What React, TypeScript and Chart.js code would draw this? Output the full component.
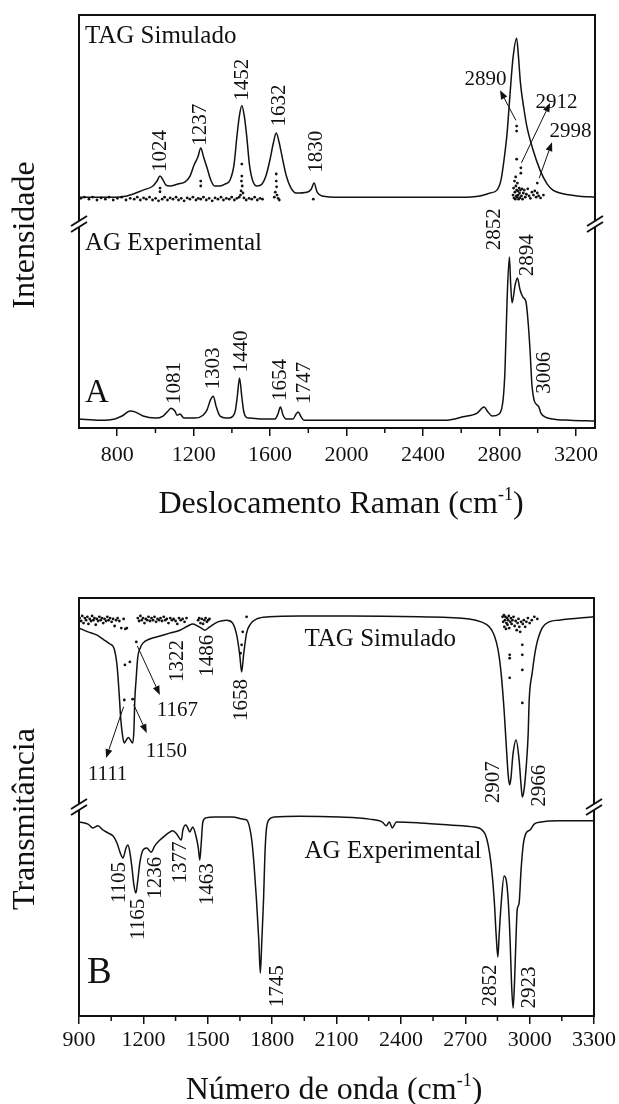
import { useEffect, useRef } from "react";
import { Chart, registerables } from "chart.js";

Chart.register(...registerables);

type Pair = [number, number];

// ---------- Raman (A) ----------
// Simulated TAG spectrum: [wavenumber cm-1, relative intensity]
const ramanSimulated: Pair[] = [
  [600, 55.9], [762, 55.9], [851, 56.2], [935, 57.6], [987, 58.6], [1008, 59.8], [1024, 61.0],
  [1040, 60.0], [1055, 58.8], [1076, 58.6], [1118, 59.1], [1155, 59.6], [1181, 61.0], [1202, 63.7],
  [1222, 65.6], [1237, 67.8], [1252, 65.6], [1270, 63.0], [1290, 60.0], [1310, 58.6], [1338, 58.6],
  [1365, 59.1], [1390, 60.0], [1411, 63.7], [1427, 70.9], [1440, 75.8], [1452, 78.0], [1464, 75.8],
  [1477, 70.9], [1492, 63.7], [1508, 60.0], [1531, 58.6], [1558, 59.1], [1578, 61.0], [1599, 64.9],
  [1617, 69.0], [1632, 71.4], [1647, 69.2], [1664, 65.4], [1685, 61.0], [1706, 58.4], [1736, 56.9],
  [1793, 57.1], [1815, 57.8], [1830, 59.3], [1846, 57.1], [1871, 56.2], [1966, 55.9], [2280, 55.9],
  [2594, 55.9], [2698, 56.2], [2751, 56.9], [2787, 57.6], [2808, 60.0], [2824, 64.9], [2840, 71.4],
  [2855, 80.6], [2871, 89.6], [2890, 94.4], [2899, 90.3], [2910, 83.5], [2929, 77.0], [2944, 72.9],
  [2976, 67.3], [3012, 62.5], [3049, 59.1], [3080, 57.6], [3117, 56.9], [3206, 56.2], [3300, 55.9],
];

// Calculated TAG Raman bands (dots)
const ramanSimulatedBands: Pair[] = [
  [610, 55.6], [628, 55.9], [652, 55.4], [671, 55.9], [694, 55.2], [716, 55.7], [738, 55.4],
  [757, 55.9], [779, 55.2], [801, 55.6], [823, 55.9], [846, 55.2], [868, 55.6], [889, 55.4],
  [905, 55.9], [921, 55.2], [938, 55.7], [952, 55.4], [969, 55.9], [985, 55.2], [1001, 55.6],
  [1016, 55.0], [1024, 57.2], [1024, 58.1], [1035, 55.4], [1048, 55.9], [1063, 55.2], [1077, 55.7],
  [1092, 55.4], [1108, 55.9], [1121, 55.2], [1135, 55.6], [1150, 55.0], [1166, 55.7], [1180, 55.4],
  [1196, 55.9], [1212, 55.2], [1224, 55.6], [1237, 59.8], [1237, 58.6], [1237, 55.4], [1251, 55.9],
  [1266, 55.2], [1281, 55.6], [1297, 55.0], [1312, 55.7], [1327, 55.4], [1343, 55.9], [1356, 55.2],
  [1371, 55.6], [1386, 55.4], [1399, 55.9], [1413, 55.2], [1426, 55.6], [1438, 55.9], [1445, 56.4],
  [1452, 63.9], [1452, 61.0], [1450, 59.8], [1454, 58.6], [1448, 57.4], [1458, 56.9], [1463, 55.7],
  [1475, 55.2], [1490, 55.6], [1504, 55.4], [1519, 55.9], [1533, 55.2], [1547, 55.6], [1560, 55.4],
  [1622, 55.9], [1627, 57.1], [1632, 61.5], [1632, 59.8], [1634, 58.4], [1636, 56.4], [1642, 55.6],
  [1648, 55.2], [1826, 55.4],
  [2890, 73.1], [2890, 71.9], [2890, 65.1], [2871, 56.4], [2874, 58.1], [2876, 55.7], [2879, 59.8],
  [2881, 57.1], [2883, 55.4], [2885, 60.8], [2886, 58.6], [2888, 56.2], [2890, 57.6], [2892, 55.9],
  [2894, 59.3], [2896, 57.4], [2898, 56.4], [2900, 55.4], [2903, 58.1], [2905, 56.9], [2907, 55.7],
  [2910, 57.6], [2912, 63.0], [2912, 61.7], [2915, 56.2], [2918, 57.9], [2921, 55.4], [2925, 56.9],
  [2930, 57.6], [2935, 55.9], [2941, 56.6], [2948, 57.9], [2955, 56.2], [2962, 55.6], [2970, 57.1],
  [2978, 56.4], [2985, 57.4], [2992, 55.9], [2998, 59.3], [2998, 56.9], [3005, 56.2], [3015, 55.7],
  [3030, 56.4],
];

// Experimental fatty-acid Raman spectrum
const ramanExperimental: Pair[] = [
  [600, 2.2], [710, 1.9], [788, 2.2], [825, 2.9], [867, 4.1], [893, 3.9], [935, 2.9], [998, 2.4],
  [1040, 2.9], [1066, 4.1], [1081, 4.8], [1102, 4.1], [1113, 3.1], [1128, 3.4], [1149, 2.4],
  [1207, 2.4], [1249, 3.1], [1270, 4.4], [1288, 6.8], [1303, 7.7], [1317, 5.3], [1338, 2.9],
  [1385, 2.4], [1406, 2.9], [1418, 4.2], [1428, 7.5], [1440, 12.1], [1452, 7.5], [1462, 4.0],
  [1475, 2.6], [1490, 2.4], [1547, 2.2], [1626, 2.2], [1641, 3.4], [1654, 5.1], [1668, 3.1],
  [1683, 2.2], [1720, 2.2], [1736, 3.4], [1747, 3.9], [1762, 2.7], [1777, 1.9], [2018, 1.9],
  [2280, 1.9], [2526, 1.9], [2609, 2.7], [2683, 3.6], [2719, 5.1], [2740, 3.9], [2761, 2.9],
  [2798, 3.4], [2819, 6.8], [2829, 14.0], [2840, 31.0], [2852, 41.4], [2859, 34.6], [2866, 30.3],
  [2882, 34.6], [2894, 36.3], [2908, 33.4], [2923, 31.7], [2939, 30.5], [2949, 26.2], [2960, 18.9],
  [2970, 10.4], [2981, 6.8], [2994, 5.7], [3006, 5.1], [3017, 3.6], [3038, 2.7], [3075, 2.2],
  [3169, 1.9], [3300, 1.7],
];

// ---------- Infrared (B) ----------
// Simulated TAG transmittance
const irSimulated: Pair[] = [
  [900, 92.8], [942, 91.9], [984, 91.1], [1016, 90.0], [1044, 89.0], [1063, 88.0], [1077, 84.0],
  [1086, 78.0], [1095, 70.8], [1104, 66.7], [1111, 65.3], [1120, 66.0], [1130, 66.6], [1140, 66.0],
  [1150, 65.3], [1156, 68.4], [1160, 75.6], [1166, 80.4], [1174, 85.9], [1185, 88.0], [1198, 89.2],
  [1230, 90.2], [1277, 90.9], [1322, 91.6], [1370, 92.3], [1407, 93.3], [1430, 93.8], [1453, 93.3],
  [1470, 92.8], [1486, 92.3], [1509, 93.1], [1547, 94.3], [1588, 94.7], [1616, 94.0], [1635, 91.1],
  [1649, 86.4], [1658, 82.3], [1667, 86.4], [1681, 91.6], [1700, 93.8], [1728, 95.0], [1788, 95.5],
  [1928, 95.7], [2160, 95.7], [2486, 95.5], [2719, 95.0], [2774, 94.3], [2812, 93.1], [2835, 91.1],
  [2853, 87.6], [2867, 82.1], [2881, 73.2], [2891, 64.8], [2900, 57.7], [2907, 55.3], [2913, 56.9],
  [2922, 62.4], [2937, 66.0], [2951, 61.2], [2960, 55.3], [2966, 52.4], [2974, 54.1], [2984, 59.6],
  [2993, 67.2], [2998, 75.6], [3012, 82.1], [3030, 88.3], [3058, 92.8], [3091, 94.3], [3137, 94.7],
  [3300, 95.5],
];

// Calculated TAG infrared bands (dots)
const irSimulatedBands: Pair[] = [
  [903, 95.2], [910, 94.5], [915, 95.7], [921, 94.0], [927, 95.2], [933, 94.7], [939, 95.5],
  [944, 93.8], [950, 95.0], [956, 94.5], [961, 95.7], [967, 94.7], [972, 95.2], [978, 93.6],
  [983, 95.0], [989, 94.5], [995, 95.5], [1001, 94.7], [1007, 95.2], [1013, 94.0], [1019, 95.0],
  [1026, 94.5], [1032, 95.5], [1038, 94.7], [1045, 95.2], [1052, 94.3], [1059, 95.0], [1066, 93.3],
  [1073, 94.7], [1080, 95.2], [1088, 94.5], [1097, 92.8], [1108, 95.0], [1116, 92.6],
  [1111, 75.6], [1114, 84.0], [1123, 92.8], [1137, 84.7], [1150, 75.8], [1167, 89.5],
  [1174, 95.2], [1180, 94.5], [1186, 95.7], [1192, 94.7], [1198, 95.2], [1205, 94.0], [1211, 95.0],
  [1218, 94.7], [1224, 95.5], [1231, 94.5], [1238, 95.2], [1245, 94.7], [1252, 95.5], [1259, 94.3],
  [1266, 95.0], [1273, 94.7], [1280, 95.2], [1287, 94.5], [1295, 95.5], [1302, 94.7], [1309, 95.0],
  [1317, 94.0], [1325, 95.2], [1333, 94.7], [1341, 95.0], [1350, 94.5], [1358, 93.8], [1366, 95.2],
  [1374, 94.7], [1383, 95.0], [1392, 94.3], [1401, 95.2],
  [1455, 94.7], [1460, 95.2], [1466, 94.0], [1472, 95.0], [1478, 93.8], [1484, 94.7], [1490, 95.2],
  [1496, 94.3], [1502, 94.7], [1508, 95.0],
  [1653, 86.8], [1658, 88.8], [1663, 91.9], [1681, 95.5],
  [2874, 95.5], [2877, 94.3], [2880, 95.9], [2882, 93.1], [2885, 94.7], [2887, 95.5], [2890, 92.6],
  [2892, 94.0], [2895, 95.2], [2897, 93.6], [2900, 94.7], [2903, 95.7], [2905, 92.8], [2907, 86.4],
  [2907, 85.6], [2907, 80.9], [2910, 94.3], [2913, 95.2], [2916, 93.8], [2920, 94.7], [2925, 95.5],
  [2930, 93.3], [2935, 94.5], [2940, 92.3], [2944, 94.0], [2948, 95.0], [2952, 93.1], [2956, 91.9],
  [2960, 94.3], [2966, 88.8], [2966, 86.4], [2966, 82.8], [2966, 74.9], [2968, 93.8], [2973, 94.7],
  [2979, 93.1], [2985, 94.3], [2992, 95.2], [3000, 94.0], [3010, 94.7], [3022, 95.5], [3036, 95.0],
];

// Experimental fatty-acid transmittance
const irExperimental: Pair[] = [
  [900, 46.4], [942, 45.9], [965, 45.0], [988, 45.5], [1012, 44.5], [1035, 43.8], [1058, 43.1],
  [1077, 41.4], [1091, 39.2], [1105, 37.8], [1119, 40.2], [1128, 40.9], [1137, 39.2], [1147, 35.4],
  [1156, 31.3], [1165, 29.4], [1174, 32.5], [1184, 36.8], [1198, 39.7], [1216, 40.2], [1236, 39.2],
  [1253, 40.7], [1277, 42.1], [1300, 43.1], [1323, 44.0], [1337, 44.3], [1356, 43.5], [1377, 42.1],
  [1384, 44.5], [1398, 45.7], [1407, 45.0], [1416, 44.0], [1430, 45.2], [1444, 43.3], [1456, 40.2],
  [1463, 37.3], [1469, 40.9], [1477, 46.4], [1491, 47.4], [1533, 47.6], [1616, 47.6], [1663, 47.1],
  [1681, 46.9], [1705, 42.1], [1716, 36.0], [1727, 27.8], [1738, 18.0], [1745, 10.3], [1752, 18.0],
  [1760, 27.8], [1766, 38.0], [1772, 44.0], [1784, 46.9], [1812, 47.6], [1928, 47.8], [2114, 47.6],
  [2253, 47.1], [2314, 46.4], [2332, 45.5], [2346, 46.4], [2360, 45.0], [2379, 46.4], [2486, 46.2],
  [2626, 45.7], [2742, 45.2], [2774, 44.7], [2793, 43.5], [2807, 40.9], [2821, 36.1], [2835, 27.8],
  [2844, 19.4], [2852, 14.1], [2858, 19.4], [2867, 26.6], [2881, 33.5], [2891, 32.5], [2900, 27.8],
  [2909, 18.2], [2916, 7.4], [2923, 1.9], [2930, 8.6], [2937, 19.4], [2942, 25.4], [2951, 27.0],
  [2960, 34.9], [2970, 40.9], [2984, 43.8], [3002, 44.5], [3021, 45.9], [3053, 46.4], [3137, 46.7],
  [3300, 46.7],
];

// Axis ticks
const ramanMajorTicks = [800, 1200, 1600, 2000, 2400, 2800, 3200];
const ramanMinorTicks = [1000, 1400, 1800, 2200, 2600, 3000];
const irMajorTicks = [900, 1200, 1500, 1800, 2100, 2400, 2700, 3000, 3300];
const irMinorTicks = [1050, 1350, 1650, 1950, 2250, 2550, 2850, 3150];

// Annotations (placed in data coordinates)
type Note = { text: string; x: number; y: number; size?: number; vertical?: boolean; left?: boolean };
type Arrow = [number, number, number, number];

const ramanNotes: Note[] = [
  { text: "TAG Simulado", x: 631, y: 93.2, size: 25, left: true },
  { text: "AG Experimental", x: 631, y: 43.1, size: 25, left: true },
  { text: "A", x: 631, y: 6.3, size: 33, left: true },
  { text: "1024", x: 1026, y: 67.1, vertical: true },
  { text: "1237", x: 1236, y: 73.4, vertical: true },
  { text: "1452", x: 1455, y: 84.3, vertical: true },
  { text: "1632", x: 1647, y: 78.1, vertical: true },
  { text: "1830", x: 1843, y: 66.9, vertical: true },
  { text: "1081", x: 1100, y: 10.9, vertical: true },
  { text: "1303", x: 1304, y: 14.4, vertical: true },
  { text: "1440", x: 1450, y: 18.5, vertical: true },
  { text: "1654", x: 1654, y: 11.6, vertical: true },
  { text: "1747", x: 1780, y: 10.9, vertical: true },
  { text: "2852", x: 2774, y: 48.1, vertical: true },
  { text: "2894", x: 2947, y: 41.8, vertical: true },
  { text: "3006", x: 3036, y: 13.4, vertical: true },
  { text: "2890", x: 2727, y: 84.3 },
  { text: "2912", x: 3099, y: 78.8 },
  { text: "2998", x: 3172, y: 71.8 },
];
const ramanArrows: Arrow[] = [
  [2886, 74.5, 2803, 81.8],
  [2915, 64.2, 3065, 78.7],
  [3008, 60.5, 3075, 69.2],
];

const irNotes: Note[] = [
  { text: "TAG Simulado", x: 1951, y: 88.5, size: 25, left: true },
  { text: "AG Experimental", x: 1951, y: 37.8, size: 25, left: true },
  { text: "B", x: 937, y: 7.9, size: 37, left: true },
  { text: "1322", x: 1358, y: 84.9, vertical: true },
  { text: "1486", x: 1498, y: 86.2, vertical: true },
  { text: "1658", x: 1656, y: 75.6, vertical: true },
  { text: "2907", x: 2833, y: 55.9, vertical: true },
  { text: "2966", x: 3046, y: 55.1, vertical: true },
  { text: "1105", x: 1088, y: 31.9, vertical: true },
  { text: "1165", x: 1177, y: 23.1, vertical: true },
  { text: "1236", x: 1256, y: 33.1, vertical: true },
  { text: "1377", x: 1372, y: 36.7, vertical: true },
  { text: "1463", x: 1498, y: 31.5, vertical: true },
  { text: "1745", x: 1823, y: 7.1, vertical: true },
  { text: "2852", x: 2819, y: 7.3, vertical: true },
  { text: "2923", x: 3000, y: 6.8, vertical: true },
  { text: "1167", x: 1358, y: 73.1 },
  { text: "1150", x: 1307, y: 63.3 },
  { text: "1111", x: 1033, y: 57.7 },
];
const irArrows: Arrow[] = [
  [1172, 88.5, 1277, 76.8],
  [1155, 74.5, 1216, 67.7],
  [1108, 74.0, 1026, 61.7],
];

const INK = "#111";
const SERIF = '"Liberation Serif", "Times New Roman", serif';
const PAGE_W = 619;

type PanelSpec = {
  top: number;
  height: number;
  area: { left: number; right: number; top: number; bottom: number };
  xMin: number;
  xMax: number;
  majorTicks: number[];
  minorTicks: number[];
  tickPadding: number;
  lines: Pair[][];
  bands: Pair[];
  notes: Note[];
  arrows: Arrow[];
  breakY: number;
  yTitle: { text: string; x: number; y: number };
  xTitle: { text: string; sup: string; close: string; x: number; baseline: number };
};

function makeDecor(spec: PanelSpec) {
  return {
    id: "panelDecor",
    afterDraw(chart: any) {
      const ctx: CanvasRenderingContext2D = chart.ctx;
      const { left, right, top, bottom } = chart.chartArea;
      const xs = chart.scales.x;
      const ys = chart.scales.y;
      ctx.save();

      // minor ticks
      ctx.strokeStyle = INK;
      ctx.lineWidth = 1.5;
      for (const v of spec.minorTicks) {
        const px = xs.getPixelForValue(v);
        ctx.beginPath();
        ctx.moveTo(px, bottom);
        ctx.lineTo(px, bottom + 5);
        ctx.stroke();
      }

      // frame
      ctx.lineWidth = 2;
      ctx.strokeRect(left, top, right - left, bottom - top);

      // axis breaks on both vertical sides
      const by = ys.getPixelForValue(spec.breakY);
      for (const ax of [left, right]) {
        ctx.fillStyle = "#fff";
        ctx.fillRect(ax - 2, by - 3, 4, 6);
        ctx.strokeStyle = INK;
        ctx.lineWidth = 2;
        for (const off of [-3, 3]) {
          ctx.beginPath();
          ctx.moveTo(ax - 8, by + off + 5);
          ctx.lineTo(ax + 8, by + off - 5);
          ctx.stroke();
        }
      }

      // notes
      ctx.fillStyle = INK;
      for (const n of spec.notes) {
        const px = xs.getPixelForValue(n.x);
        const py = ys.getPixelForValue(n.y);
        ctx.font = `${n.size ?? 21}px ${SERIF}`;
        if (n.vertical) {
          ctx.save();
          ctx.translate(px, py);
          ctx.rotate(-Math.PI / 2);
          ctx.textAlign = "center";
          ctx.textBaseline = "middle";
          ctx.fillText(n.text, 0, 0);
          ctx.restore();
        } else if (n.left) {
          ctx.textAlign = "left";
          ctx.textBaseline = "alphabetic";
          ctx.fillText(n.text, px, py);
        } else {
          ctx.textAlign = "center";
          ctx.textBaseline = "middle";
          ctx.fillText(n.text, px, py);
        }
      }

      // arrows
      ctx.strokeStyle = INK;
      ctx.fillStyle = INK;
      ctx.lineWidth = 1;
      for (const [ax1, ay1, ax2, ay2] of spec.arrows) {
        const x1 = xs.getPixelForValue(ax1);
        const y1 = ys.getPixelForValue(ay1);
        const x2 = xs.getPixelForValue(ax2);
        const y2 = ys.getPixelForValue(ay2);
        const ang = Math.atan2(y2 - y1, x2 - x1);
        const hl = 9;
        const hw = 3.5;
        const bx = x2 - hl * Math.cos(ang);
        const byy = y2 - hl * Math.sin(ang);
        ctx.beginPath();
        ctx.moveTo(x1, y1);
        ctx.lineTo(bx, byy);
        ctx.stroke();
        ctx.beginPath();
        ctx.moveTo(x2, y2);
        ctx.lineTo(bx + hw * Math.sin(ang), byy - hw * Math.cos(ang));
        ctx.lineTo(bx - hw * Math.sin(ang), byy + hw * Math.cos(ang));
        ctx.closePath();
        ctx.fill();
      }

      // y title
      ctx.save();
      ctx.translate(spec.yTitle.x, spec.yTitle.y);
      ctx.rotate(-Math.PI / 2);
      ctx.font = `32px ${SERIF}`;
      ctx.textAlign = "center";
      ctx.textBaseline = "middle";
      ctx.fillText(spec.yTitle.text, 0, 0);
      ctx.restore();

      // x title with superscript
      const t = spec.xTitle;
      ctx.textAlign = "left";
      ctx.textBaseline = "alphabetic";
      ctx.font = `32px ${SERIF}`;
      const w1 = ctx.measureText(t.text).width;
      const w3 = ctx.measureText(t.close).width;
      ctx.font = `18px ${SERIF}`;
      const w2 = ctx.measureText(t.sup).width;
      let x = t.x - (w1 + w2 + w3) / 2;
      ctx.font = `32px ${SERIF}`;
      ctx.fillText(t.text, x, t.baseline);
      x += w1;
      ctx.font = `18px ${SERIF}`;
      ctx.fillText(t.sup, x, t.baseline - 13);
      x += w2;
      ctx.font = `32px ${SERIF}`;
      ctx.fillText(t.close, x, t.baseline);

      ctx.restore();
    },
  };
}

const toXY = (pts: Pair[]) => pts.map(([x, y]) => ({ x, y }));

function Panel({ spec }: { spec: PanelSpec }) {
  const ref = useRef<HTMLCanvasElement>(null);
  useEffect(() => {
    const canvas = ref.current;
    if (!canvas) return;
    const lineSets = spec.lines.map((pts) => ({
      data: toXY(pts),
      showLine: true,
      borderColor: INK,
      borderWidth: 1.5,
      pointRadius: 0,
      cubicInterpolationMode: "monotone" as const,
      fill: false,
    }));
    const dotSet = {
      data: toXY(spec.bands),
      showLine: false,
      pointRadius: 1.4,
      pointBackgroundColor: INK,
      pointBorderWidth: 0,
    };
    const chart = new Chart(canvas, {
      type: "scatter",
      data: { datasets: [...lineSets, dotSet] as any },
      options: {
        responsive: false,
        animation: false,
        devicePixelRatio: 1,
        events: [],
        layout: {
          padding: {
            left: spec.area.left,
            right: PAGE_W - spec.area.right,
            top: spec.area.top,
            bottom: 0,
          },
        },
        plugins: { legend: { display: false }, tooltip: { enabled: false } },
        scales: {
          x: {
            type: "linear",
            position: "bottom",
            min: spec.xMin,
            max: spec.xMax,
            afterBuildTicks: (axis: any) => {
              axis.ticks = spec.majorTicks.map((v) => ({ value: v }));
            },
            afterFit: (axis: any) => {
              axis.height = spec.height - spec.area.bottom;
            },
            grid: {
              display: true,
              drawOnChartArea: false,
              drawTicks: true,
              tickLength: 8,
              tickWidth: 1.5,
              tickColor: INK,
              color: INK,
              lineWidth: 1.5,
            },
            border: { display: false },
            ticks: {
              autoSkip: false,
              maxRotation: 0,
              minRotation: 0,
              padding: spec.tickPadding,
              color: INK,
              font: { family: SERIF, size: 22 },
              callback: (v: any) => String(v),
            },
          },
          y: { display: false, min: 0, max: 100 },
        },
      } as any,
      plugins: [makeDecor(spec)],
    });
    return () => chart.destroy();
  }, [spec]);
  return (
    <canvas
      ref={ref}
      width={PAGE_W}
      height={spec.height}
      style={{ position: "absolute", left: 0, top: spec.top, display: "block" }}
    />
  );
}

const ramanPanel: PanelSpec = {
  top: 0,
  height: 536,
  area: { left: 79, right: 595, top: 15, bottom: 428 },
  xMin: 600,
  xMax: 3300,
  majorTicks: ramanMajorTicks,
  minorTicks: ramanMinorTicks,
  tickPadding: 6,
  lines: [ramanSimulated, ramanExperimental],
  bands: ramanSimulatedBands,
  notes: ramanNotes,
  arrows: ramanArrows,
  breakY: 49.4,
  yTitle: { text: "Intensidade", x: 26, y: 235 },
  xTitle: { text: "Deslocamento Raman (cm", sup: "-1", close: ")", x: 341, baseline: 513 },
};

const irPanel: PanelSpec = {
  top: 536,
  height: 568,
  area: { left: 79, right: 595, top: 62, bottom: 480 },
  xMin: 900,
  xMax: 3300,
  majorTicks: irMajorTicks,
  minorTicks: irMinorTicks,
  tickPadding: 3,
  lines: [irSimulated, irExperimental],
  bands: irSimulatedBands,
  notes: irNotes,
  arrows: irArrows,
  breakY: 50.0,
  yTitle: { text: "Transmitância", x: 26, y: 283 },
  xTitle: { text: "Número de onda (cm", sup: "-1", close: ")", x: 334, baseline: 563 },
};

export default function App() {
  return (
    <div
      style={{
        position: "absolute",
        left: 0,
        top: 0,
        width: PAGE_W,
        height: 1104,
        background: "#fff",
        overflow: "hidden",
      }}
    >
      <Panel spec={ramanPanel} />
      <Panel spec={irPanel} />
    </div>
  );
}
